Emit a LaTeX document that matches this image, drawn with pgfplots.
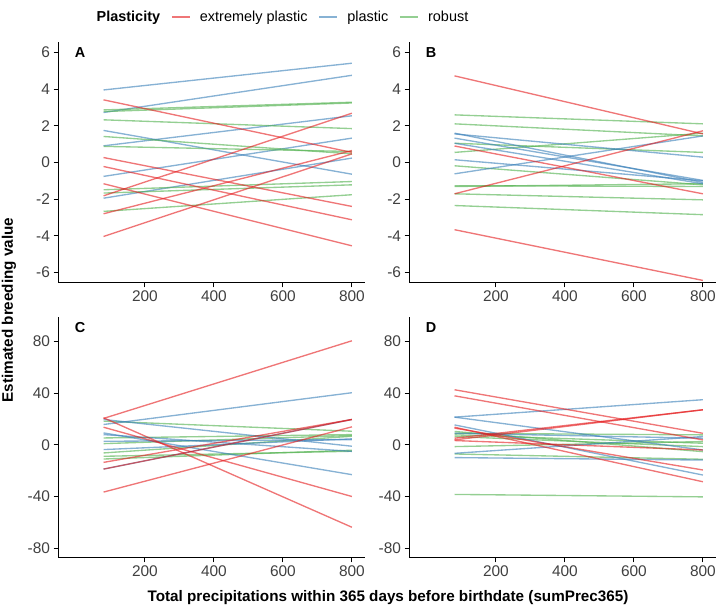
\documentclass[border=0pt]{standalone}
\usepackage{pgfplots}
\pgfplotsset{compat=1.18}
\usepackage{fontspec}
\setmainfont{Liberation Sans}
\definecolor{cred}{HTML}{E41A1C}
\definecolor{cblue}{HTML}{377EB8}
\definecolor{cgreen}{HTML}{4DAF4A}
\tikzset{
  ep/.style={cred, draw opacity=0.6, line width=1.35pt},
  pl/.style={cblue, draw opacity=0.6, line width=1.35pt},
  rb/.style={cgreen, draw opacity=0.6, line width=1.35pt},
  plab/.style={font=\bfseries\fontsize{14.5}{14.5}\selectfont},
}
\pgfplotsset{
  panel/.style={
    width=307bp, height=241bp, scale only axis,
    axis x line*=bottom, axis y line*=left,
    axis line style={-, line width=1pt, black},
    tick align=outside, major tick length=4.5bp,
    tick style={black, line width=1pt},
    xmin=-52, xmax=838, xtick={200,400,600,800},
    tick label style={font=\fontsize{15.5}{15.5}\selectfont, text=black!75},
    /pgf/number format/assume math mode=true,
    legend image code/.code={\draw[##1] (0bp,0bp) -- (18bp,0bp);},
  },
  smallpanel/.style={panel, ymin=-6.58, ymax=6.58, ytick={-6,-4,-2,0,2,4,6}},
  bigpanel/.style={panel, ymin=-87.5, ymax=99, ytick={-80,-40,0,40,80}},
}
\begin{document}
\begin{tikzpicture}[x=1bp,y=1bp]
\path[use as bounding box] (0,0) rectangle (720,610);
% ---------------- Panel A ----------------
\begin{axis}[smallpanel, at={(58bp,327bp)}, anchor=south west,
  legend style={at={(0.719,1.104)}, anchor=center, draw=none, fill=none,
    legend columns=4, font=\fontsize{14.5}{14.5}\selectfont,
    /tikz/every even column/.append style={column sep=9bp},
    /tikz/every odd column/.append style={column sep=7.5bp}}]
\addlegendimage{empty legend}\addlegendentry{\textbf{Plasticity}}
\addlegendimage{ep}\addlegendentry{extremely plastic}
\addlegendimage{pl}\addlegendentry{plastic}
\addlegendimage{rb}\addlegendentry{robust}
% plastic
\addplot[pl] coordinates {(80,3.96) (800,5.42)};
\addplot[pl] coordinates {(80,2.73) (800,4.76)};
\addplot[pl] coordinates {(80,0.91) (800,2.55)};
\addplot[pl] coordinates {(80,1.75) (800,-0.64)};
\addplot[pl] coordinates {(80,-0.76) (800,1.33)};
\addplot[pl] coordinates {(80,-1.95) (800,0.24)};
% robust
\addplot[rb] coordinates {(80,2.87) (800,3.29)};
\addplot[rb] coordinates {(80,2.78) (800,3.25)};
\addplot[rb] coordinates {(80,2.33) (800,1.85)};
\addplot[rb] coordinates {(80,1.42) (800,0.47)};
\addplot[rb] coordinates {(80,0.88) (800,0.6)};
\addplot[rb] coordinates {(80,-1.49) (800,-1.04)};
\addplot[rb] coordinates {(80,-1.67) (800,-1.22)};
\addplot[rb] coordinates {(80,-2.67) (800,-1.76)};
% extremely plastic
\addplot[ep] coordinates {(80,3.42) (800,0.55)};
\addplot[ep] coordinates {(80,0.27) (800,-2.4)};
\addplot[ep] coordinates {(80,-0.22) (800,-3.13)};
\addplot[ep] coordinates {(80,-1.16) (800,-4.55)};
\addplot[ep] coordinates {(80,-1.82) (800,2.69)};
\addplot[ep] coordinates {(80,-2.8) (800,0.65)};
\addplot[ep] coordinates {(80,-4.04) (800,0.47)};
\node[plab] at (rel axis cs:0.072,0.957) {A};
\end{axis}
% ---------------- Panel B ----------------
\begin{axis}[smallpanel, at={(409bp,327bp)}, anchor=south west]
% robust
\addplot[rb] coordinates {(80,2.6) (800,2.11)};
\addplot[rb] coordinates {(80,2.11) (800,1.45)};
\addplot[rb] coordinates {(80,0.55) (800,1.6)};
\addplot[rb] coordinates {(80,1.05) (800,0.55)};
\addplot[rb] coordinates {(80,-0.18) (800,-1.22)};
\addplot[rb] coordinates {(80,-1.31) (800,-1.16)};
\addplot[rb] coordinates {(80,-1.27) (800,-1.31)};
\addplot[rb] coordinates {(80,-1.71) (800,-2.04)};
\addplot[rb] coordinates {(80,-2.35) (800,-2.85)};
% plastic
\addplot[pl] coordinates {(80,1.56) (800,0.29)};
\addplot[pl] coordinates {(80,1.33) (800,-0.98)};
\addplot[pl] coordinates {(80,1.6) (800,-1.09)};
\addplot[pl] coordinates {(80,1.05) (800,-1.16)};
\addplot[pl] coordinates {(80,0.15) (800,-1.0)};
\addplot[pl] coordinates {(80,-0.62) (800,1.45)};
% extremely plastic
\addplot[ep] coordinates {(80,4.73) (800,1.56)};
\addplot[ep] coordinates {(80,-3.67) (800,-6.44)};
\addplot[ep] coordinates {(80,0.9) (800,-1.71)};
\addplot[ep] coordinates {(80,-1.71) (800,1.73)};
\node[plab] at (rel axis cs:0.072,0.957) {B};
\end{axis}
% ---------------- Panel C ----------------
\begin{axis}[bigpanel, at={(58bp,52bp)}, anchor=south west]
% robust
\addplot[rb] coordinates {(80,18.4) (800,10.6)};
\addplot[rb] coordinates {(80,5.4) (800,8)};
\addplot[rb] coordinates {(80,1) (800,7.3)};
\addplot[rb] coordinates {(80,-8.8) (800,-4.9)};
\addplot[rb] coordinates {(80,-10.9) (800,-4.1)};
\addplot[rb] coordinates {(80,-6.2) (800,6.7)};
% plastic
\addplot[pl] coordinates {(80,15.8) (800,40.4)};
\addplot[pl] coordinates {(80,9.3) (800,-23)};
\addplot[pl] coordinates {(80,19.7) (800,-1)};
\addplot[pl] coordinates {(80,8) (800,-5)};
\addplot[pl] coordinates {(80,2.8) (800,4.1)};
\addplot[pl] coordinates {(80,-3.6) (800,4.7)};
\addplot[pl] coordinates {(80,-18.7) (800,19.7)};
% extremely plastic
\addplot[ep] coordinates {(80,20.5) (800,80.6)};
\addplot[ep] coordinates {(80,21) (800,-63.7)};
\addplot[ep] coordinates {(80,13.7) (800,-39.9)};
\addplot[ep] coordinates {(80,-36.5) (800,14)};
\addplot[ep] coordinates {(80,-13.5) (800,19.7)};
\addplot[ep] coordinates {(80,-18.7) (800,19.7)};
\node[plab] at (rel axis cs:0.072,0.957) {C};
\end{axis}
% ---------------- Panel D ----------------
\begin{axis}[bigpanel, at={(409bp,52bp)}, anchor=south west]
% robust
\addplot[rb] coordinates {(80,-38.3) (800,-40.2)};
\addplot[rb] coordinates {(80,-1.3) (800,2.6)};
\addplot[rb] coordinates {(80,9) (800,7.8)};
\addplot[rb] coordinates {(80,6.5) (800,-1.3)};
\addplot[rb] coordinates {(80,-7) (800,-11.1)};
\addplot[rb] coordinates {(80,10.4) (800,-5.2)};
\addplot[rb] coordinates {(80,7.8) (800,1.3)};
% plastic
\addplot[pl] coordinates {(80,21.5) (800,35)};
\addplot[pl] coordinates {(80,21.5) (800,-3.9)};
\addplot[pl] coordinates {(80,15.5) (800,-23.3)};
\addplot[pl] coordinates {(80,9) (800,5.2)};
\addplot[pl] coordinates {(80,-6.5) (800,6.5)};
\addplot[pl] coordinates {(80,-9.8) (800,-11.7)};
% extremely plastic
\addplot[ep] coordinates {(80,42.7) (800,9)};
\addplot[ep] coordinates {(80,38) (800,3.9)};
\addplot[ep] coordinates {(80,3.9) (800,27.2)};
\addplot[ep] coordinates {(80,5.2) (800,27.2)};
\addplot[ep] coordinates {(80,13.7) (800,-28.5)};
\addplot[ep] coordinates {(80,13) (800,-19.4)};
\addplot[ep] coordinates {(80,3.4) (800,-3.9)};
\node[plab] at (rel axis cs:0.072,0.957) {D};
\end{axis}
% axis titles
\node[font=\bfseries\fontsize{15.3}{15.3}\selectfont, rotate=90] at (9,300) {Estimated breeding value};
\node[font=\bfseries\fontsize{15.3}{15.3}\selectfont] at (388,12) {Total precipitations within 365 days before birthdate (sumPrec365)};
\end{tikzpicture}
\end{document}
